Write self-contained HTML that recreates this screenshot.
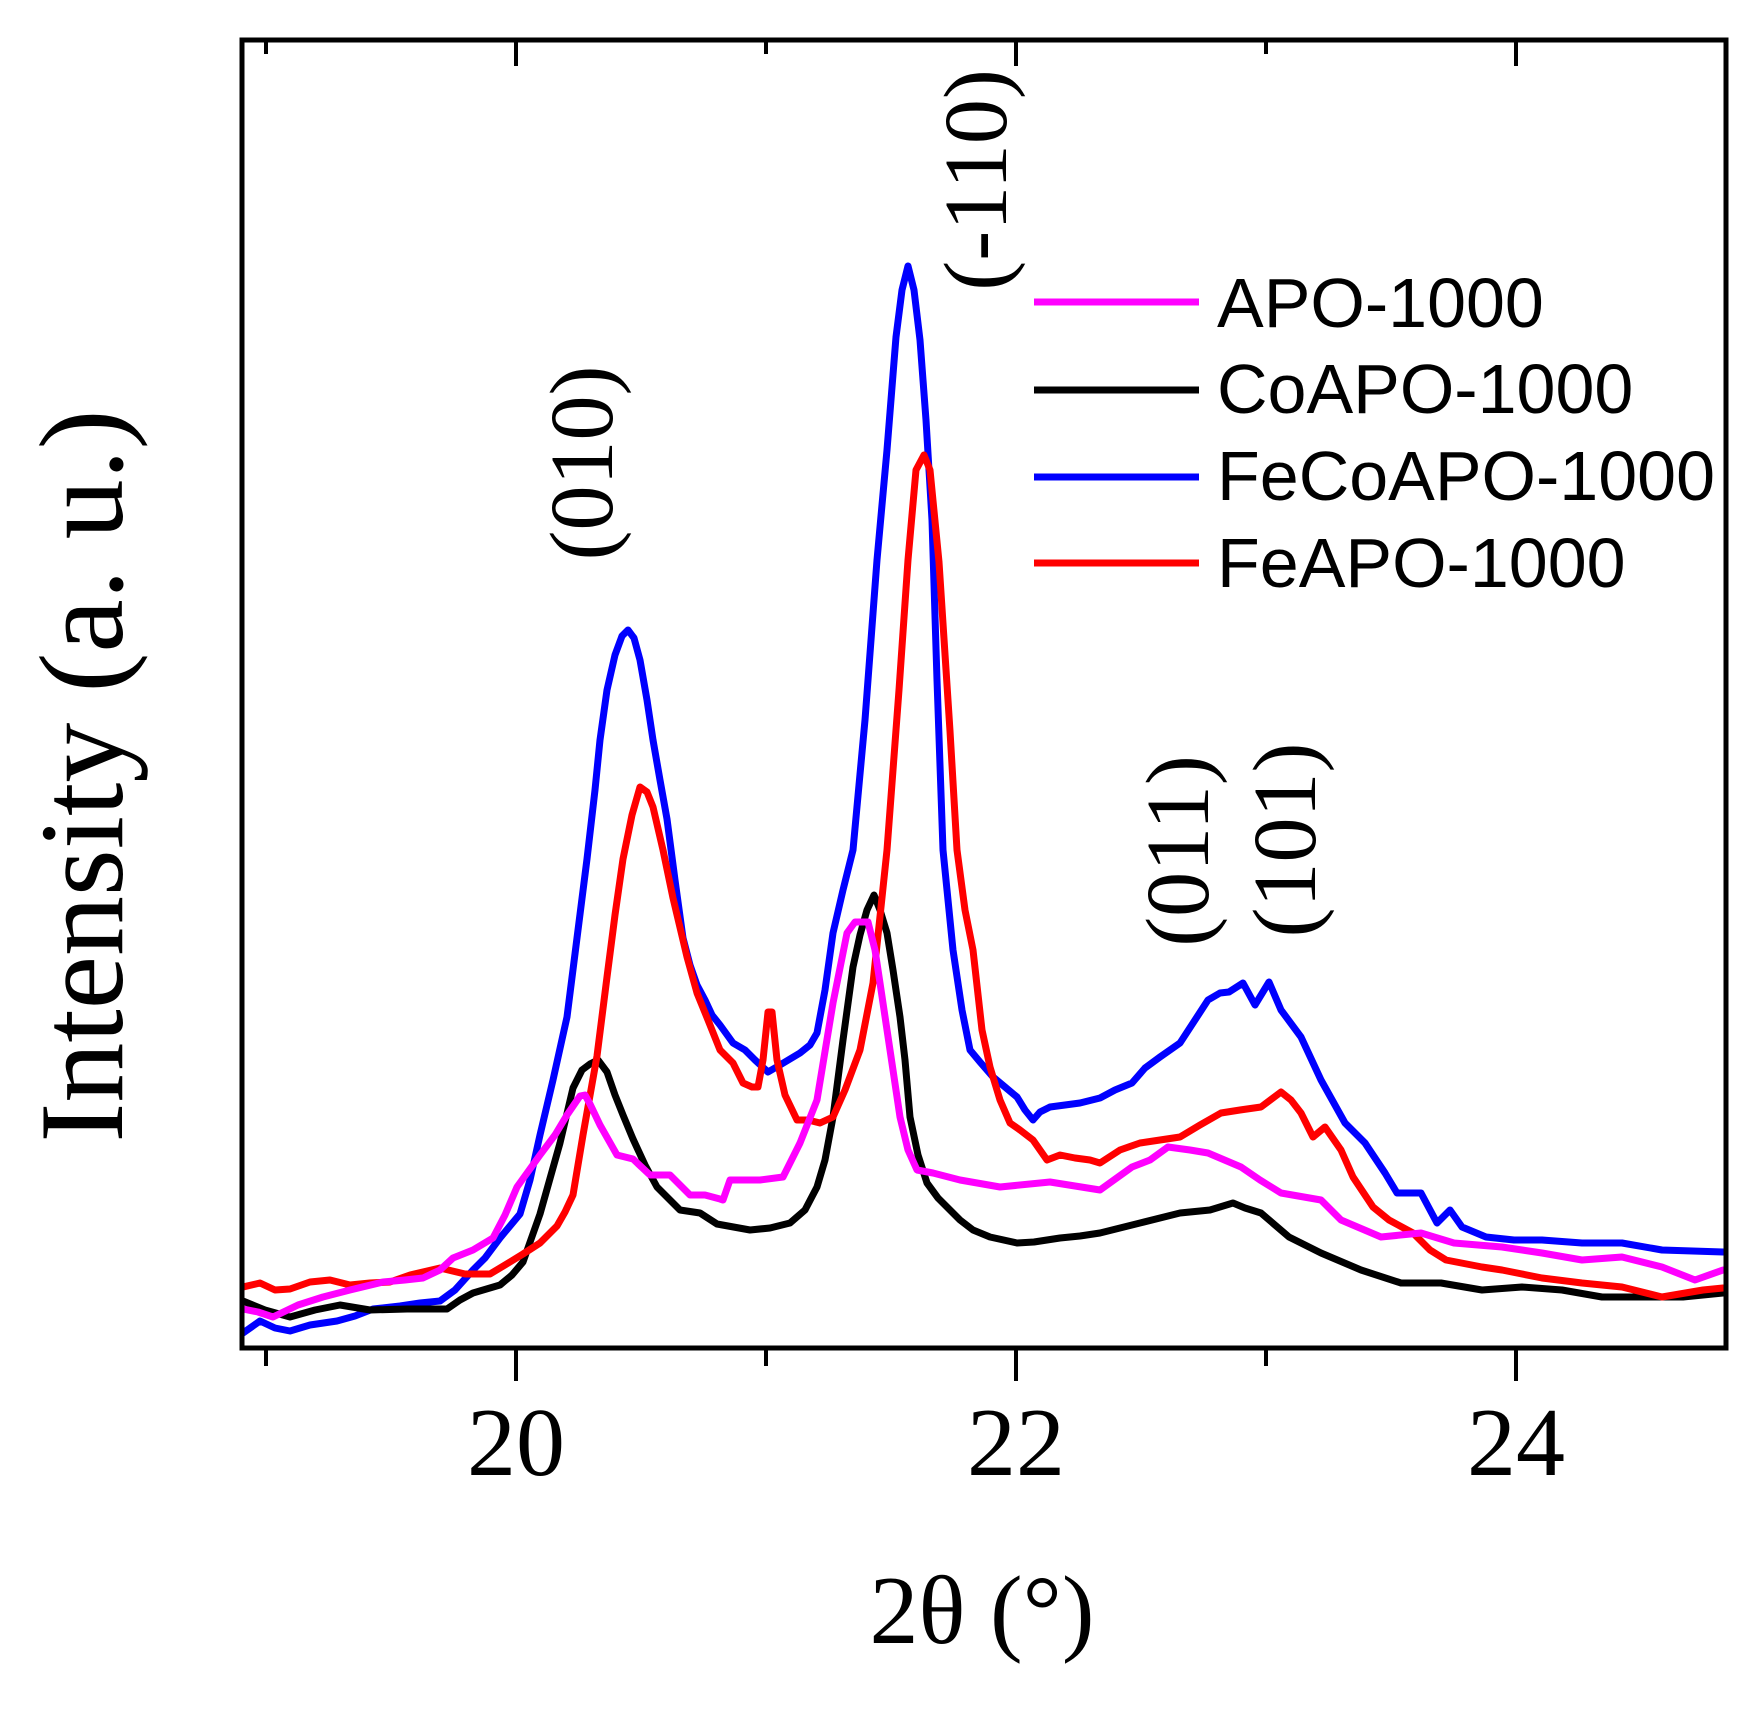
<!DOCTYPE html>
<html>
<head>
<meta charset="utf-8">
<style>
  html, body { margin: 0; padding: 0; background: #ffffff; }
  svg { display: block; }
  .serif { font-family: "Liberation Serif", "Times New Roman", serif; fill: #000; }
  .sans { font-family: "Liberation Sans", Arial, sans-serif; fill: #000; }
  .curve { fill: none; stroke-width: 7; stroke-linejoin: round; stroke-linecap: round; }
</style>
</head>
<body>
<svg width="1763" height="1710" viewBox="0 0 1763 1710" xmlns="http://www.w3.org/2000/svg">
  <rect x="0" y="0" width="1763" height="1710" fill="#ffffff"/>
  <defs>
    <clipPath id="plot">
      <rect x="244" y="42" width="1480" height="1304"/>
    </clipPath>
  </defs>

  <g clip-path="url(#plot)">
    <!-- FeCoAPO-1000 (blue) -->
    <polyline class="curve" stroke="#0000ff" points="243,1333 260,1321 275,1328 290,1331 310,1325 337,1321 355,1316 373,1309 400,1306 420,1303 440,1301 455,1290 473,1270 485,1258 500,1238 510,1226 520,1214 530,1180 540,1135 553,1080 567,1017 577,938 587,859 595,790 600,740 607,690 615,655 622,636 628,630 634,638 640,660 647,700 653,740 660,780 667,819 675,880 683,938 690,965 697,985 705,1000 712,1015 720,1025 733,1043 745,1050 755,1060 768,1072 780,1065 800,1053 810,1045 817,1033 825,990 833,933 843,890 853,850 865,720 877,560 887,450 896,337 902,290 908,266 914,290 920,340 926,420 932,520 937,680 943,850 953,950 962,1010 970,1050 980,1062 993,1077 1005,1087 1017,1097 1025,1110 1033,1120 1040,1112 1050,1107 1065,1105 1080,1103 1100,1098 1115,1090 1132,1083 1145,1068 1160,1057 1180,1043 1195,1020 1208,1000 1220,993 1229,992 1243,983 1255,1005 1269,982 1281,1010 1301,1037 1321,1080 1345,1123 1365,1143 1385,1173 1397,1193 1421,1193 1437,1223 1450,1210 1462,1227 1486,1237 1514,1240 1542,1240 1582,1243 1622,1243 1662,1250 1723,1252"/>
    <!-- CoAPO-1000 (black) -->
    <polyline class="curve" stroke="#000000" points="243,1301 265,1310 290,1317 315,1310 340,1305 370,1310 407,1309 447,1309 460,1300 473,1293 500,1285 512,1275 523,1262 540,1214 560,1143 573,1088 582,1070 590,1064 598,1060 607,1072 615,1095 623,1115 633,1139 645,1165 657,1187 680,1210 700,1213 717,1224 750,1230 770,1228 790,1223 805,1210 817,1187 825,1160 833,1117 843,1040 853,967 860,935 867,910 874,895 880,910 887,933 893,970 900,1017 905,1060 910,1117 918,1155 927,1183 938,1198 950,1210 960,1220 973,1230 990,1237 1017,1243 1034,1242 1060,1238 1080,1236 1100,1233 1140,1223 1180,1213 1210,1210 1233,1203 1245,1208 1261,1213 1289,1237 1321,1253 1361,1270 1401,1283 1441,1283 1482,1290 1522,1287 1562,1290 1602,1297 1642,1297 1683,1297 1723,1293"/>
    <!-- FeAPO-1000 (red) -->
    <polyline class="curve" stroke="#ff0000" points="243,1287 260,1283 275,1290 290,1289 310,1282 330,1280 350,1285 370,1283 390,1282 410,1275 440,1268 465,1274 490,1274 505,1265 523,1254 540,1243 557,1226 565,1212 573,1195 583,1135 597,1056 607,977 615,915 623,859 632,815 640,787 647,792 653,807 663,850 673,898 687,957 697,993 708,1020 720,1050 733,1063 743,1083 752,1087 758,1087 763,1060 768,1012 772,1012 777,1060 785,1095 797,1120 808,1120 820,1123 833,1117 845,1090 860,1050 873,983 887,850 899,690 908,560 916,470 924,455 930,470 939,562 950,731 957,850 965,910 973,950 982,1030 990,1067 1000,1100 1010,1123 1020,1130 1033,1140 1047,1160 1060,1155 1075,1158 1090,1160 1100,1163 1120,1150 1140,1143 1160,1140 1180,1137 1200,1125 1221,1113 1240,1110 1261,1107 1281,1092 1291,1100 1301,1113 1313,1137 1325,1127 1341,1150 1353,1177 1373,1207 1389,1220 1413,1233 1430,1250 1446,1260 1482,1267 1502,1270 1542,1278 1582,1283 1622,1287 1662,1297 1703,1290 1723,1288"/>
    <!-- APO-1000 (magenta) -->
    <polyline class="curve" stroke="#ff00ff" points="243,1309 258,1312 273,1317 298,1305 323,1297 350,1290 383,1282 405,1280 423,1278 440,1270 453,1258 473,1250 493,1238 505,1215 517,1187 540,1155 555,1135 567,1115 580,1096 585,1095 590,1104 600,1125 617,1155 633,1159 650,1175 670,1175 690,1195 705,1195 720,1199 723,1200 730,1180 760,1180 783,1177 800,1143 817,1100 833,1003 847,933 855,922 868,922 875,950 880,983 890,1050 900,1117 908,1150 917,1170 933,1173 960,1180 1000,1187 1050,1182 1100,1190 1132,1167 1150,1160 1168,1147 1190,1150 1208,1153 1241,1167 1260,1180 1281,1193 1321,1200 1341,1220 1381,1237 1421,1233 1454,1243 1502,1247 1542,1253 1582,1260 1622,1257 1662,1267 1695,1280 1723,1270"/>
  </g>

  <!-- Frame -->
  <rect x="242" y="40" width="1484" height="1308" fill="none" stroke="#000" stroke-width="5"/>

  <!-- Bottom ticks (outward) -->
  <g stroke="#000" stroke-width="4">
    <line x1="516" y1="1348" x2="516" y2="1381"/>
    <line x1="1016" y1="1348" x2="1016" y2="1381"/>
    <line x1="1516" y1="1348" x2="1516" y2="1381"/>
    <line x1="266" y1="1348" x2="266" y2="1366"/>
    <line x1="766" y1="1348" x2="766" y2="1366"/>
    <line x1="1266" y1="1348" x2="1266" y2="1366"/>
    <!-- Top ticks (inward) -->
    <line x1="516" y1="40" x2="516" y2="66"/>
    <line x1="1016" y1="40" x2="1016" y2="66"/>
    <line x1="1516" y1="40" x2="1516" y2="66"/>
    <line x1="266" y1="40" x2="266" y2="54"/>
    <line x1="766" y1="40" x2="766" y2="54"/>
    <line x1="1266" y1="40" x2="1266" y2="54"/>
  </g>

  <!-- Tick labels -->
  <text class="serif" x="516" y="1475" font-size="98" text-anchor="middle">20</text>
  <text class="serif" x="1016" y="1475" font-size="98" text-anchor="middle">22</text>
  <text class="serif" x="1516" y="1475" font-size="98" text-anchor="middle">24</text>

  <!-- Axis titles -->
  <text class="serif" x="982" y="1643" font-size="98" text-anchor="middle">2θ (°)</text>
  <text class="serif" font-size="120" text-anchor="middle" transform="translate(122,776) rotate(-90)">Intensity (a. u.)</text>

  <!-- Peak labels -->
  <text class="serif" font-size="90" text-anchor="middle" transform="translate(612,463) rotate(-90)">(010)</text>
  <text class="serif" font-size="90" text-anchor="middle" transform="translate(1006,180) rotate(-90)">(-110)</text>
  <text class="serif" font-size="90" text-anchor="middle" transform="translate(1208,851) rotate(-90)">(011)</text>
  <text class="serif" font-size="90" text-anchor="middle" transform="translate(1315,840) rotate(-90)">(101)</text>

  <!-- Legend -->
  <g stroke-width="7" stroke-linecap="butt">
    <line x1="1034" y1="302" x2="1199" y2="302" stroke="#ff00ff"/>
    <line x1="1034" y1="390" x2="1199" y2="390" stroke="#000000"/>
    <line x1="1034" y1="477" x2="1199" y2="477" stroke="#0000ff"/>
    <line x1="1034" y1="563" x2="1199" y2="563" stroke="#ff0000"/>
  </g>
  <text class="sans" x="1217" y="327" font-size="70">APO-1000</text>
  <text class="sans" x="1217" y="413" font-size="70">CoAPO-1000</text>
  <text class="sans" x="1217" y="500" font-size="70">FeCoAPO-1000</text>
  <text class="sans" x="1217" y="587" font-size="70">FeAPO-1000</text>
</svg>
</body>
</html>
